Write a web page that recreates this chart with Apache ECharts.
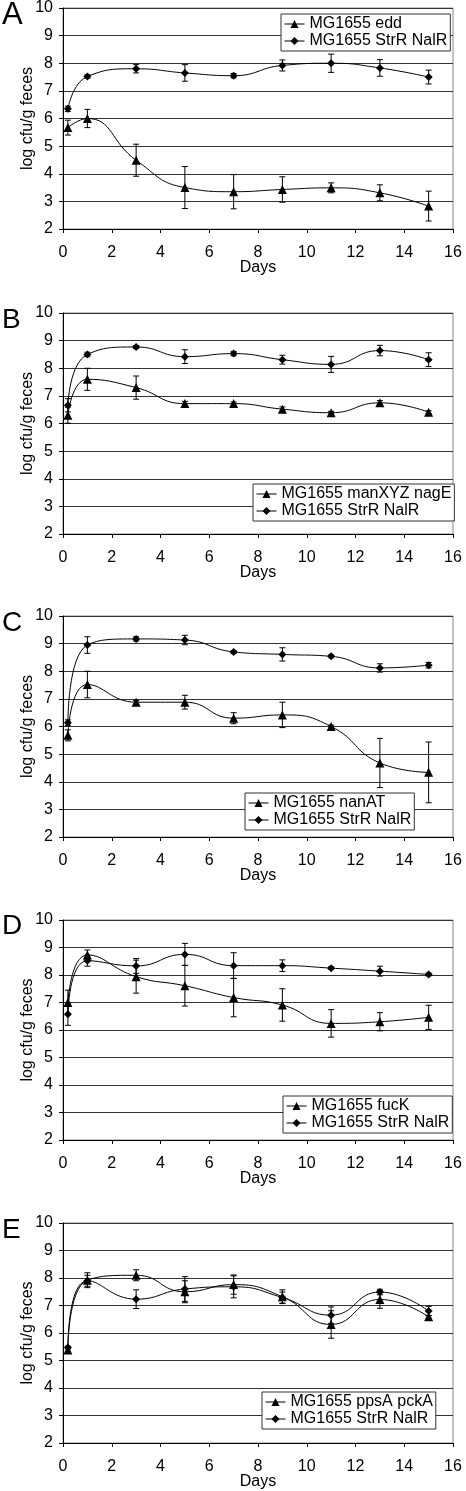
<!DOCTYPE html>
<html>
<head>
<meta charset="utf-8">
<script src="https://cdn.jsdelivr.net/npm/echarts@6/dist/echarts.min.js"></script>
<style>
html,body{margin:0;padding:0;background:#fff;}
#chart{width:466px;height:1491px;}
</style>
</head>
<body>
<div id="chart"></div>
<script>
// ---- data ----
const days = [0.2, 1, 3, 5, 7, 9, 11, 13, 15];
const panelLetters = ['A', 'B', 'C', 'D', 'E'];
const mutantNames = ['MG1655 edd', 'MG1655 manXYZ nagE', 'MG1655 nanAT', 'MG1655 fucK', 'MG1655 ppsA pckA'];
const wtName = 'MG1655 StrR NalR';
const xTicks = [0, 2, 4, 6, 8, 10, 12, 14, 16];
const yTicks = [2, 3, 4, 5, 6, 7, 8, 9, 10];

const mutA    = [5.67, 6.00, 4.49, 3.50, 3.35, 3.43, 3.49, 3.31, 2.83];
const mutAErr = [0.27, 0.33, 0.58, 0.76, 0.62, 0.46, 0.18, 0.29, 0.54];
const wtA     = [6.35, 7.52, 7.80, 7.65, 7.55, 7.92, 8.00, 7.83, 7.50];
const wtAErr  = [0.10, 0.06, 0.15, 0.30, 0.08, 0.20, 0.33, 0.30, 0.25];

const mutB    = [6.30, 7.60, 7.30, 6.72, 6.72, 6.52, 6.39, 6.75, 6.41];
const mutBErr = [0.29, 0.40, 0.42, 0.08, 0.06, 0.08, 0.05, 0.08, 0.05];
const wtB     = [6.66, 8.50, 8.77, 8.42, 8.53, 8.31, 8.14, 8.64, 8.31];
const wtBErr  = [0.24, 0.08, 0.05, 0.25, 0.08, 0.16, 0.29, 0.19, 0.25];

const mutC    = [5.68, 7.52, 6.88, 6.88, 6.30, 6.42, 6.00, 4.68, 4.34];
const mutCErr = [0.20, 0.48, 0.06, 0.25, 0.20, 0.46, 0.05, 0.89, 1.10];
const wtC     = [6.14, 8.95, 9.17, 9.13, 8.70, 8.61, 8.54, 8.12, 8.22];
const wtCErr  = [0.10, 0.30, 0.08, 0.17, 0.05, 0.24, 0.05, 0.15, 0.10];

const mutD    = [7.00, 8.73, 7.94, 7.61, 7.18, 6.91, 6.24, 6.30, 6.46];
const mutDErr = [0.45, 0.18, 0.60, 0.74, 0.70, 0.59, 0.50, 0.33, 0.44];
const wtD     = [6.57, 8.52, 8.33, 8.75, 8.34, 8.34, 8.25, 8.14, 8.02];
const wtDErr  = [0.40, 0.20, 0.27, 0.40, 0.47, 0.21, 0.05, 0.18, 0.05];

const mutE    = [5.38, 7.92, 8.10, 7.50, 7.76, 7.32, 6.31, 7.22, 6.59];
const mutEErr = [0.05, 0.27, 0.20, 0.40, 0.35, 0.25, 0.50, 0.32, 0.05];
const wtE     = [5.47, 7.90, 7.23, 7.60, 7.68, 7.29, 6.65, 7.49, 6.80];
const wtEErr  = [0.05, 0.20, 0.34, 0.45, 0.40, 0.20, 0.30, 0.10, 0.17];

const mutants = [mutA, mutB, mutC, mutD, mutE];
const mutErrs = [mutAErr, mutBErr, mutCErr, mutDErr, mutEErr];
const wts = [wtA, wtB, wtC, wtD, wtE];
const wtErrs = [wtAErr, wtBErr, wtCErr, wtDErr, wtEErr];

// ---- layout (px) ----
const FONT = '"Liberation Sans", Arial, sans-serif';
const gridTops = [8, 313, 616, 920, 1223];
const gridHeights = [221, 221, 221, 220, 220];
const legendPos = [[281, 14], [253, 484], [245, 793], [283, 1096], [262, 1392]];
const letterTops = [0, 306, 609, 912, 1216];
const letterSizes = [31, 28, 28, 28, 28];

const chart = echarts.init(document.getElementById('chart'), null, {renderer: 'canvas'});

function renderErr(params, api) {
  const x = api.value(0), lo = api.value(1), hi = api.value(2);
  const p1 = api.coord([x, lo]);
  const p2 = api.coord([x, hi]);
  const w = 3;
  const st = {stroke: '#000', lineWidth: 1};
  return {
    type: 'group',
    children: [
      {type: 'line', shape: {x1: p1[0], y1: p1[1], x2: p2[0], y2: p2[1]}, style: st},
      {type: 'line', shape: {x1: p1[0] - w, y1: p1[1], x2: p1[0] + w, y2: p1[1]}, style: st},
      {type: 'line', shape: {x1: p2[0] - w, y1: p2[1], x2: p2[0] + w, y2: p2[1]}, style: st}
    ]
  };
}

const grids = [], xAxes = [], yAxes = [], series = [], legends = [], graphics = [];
for (let i = 0; i < 5; i++) {
  grids.push({left: 63, width: 390, top: gridTops[i], height: gridHeights[i],
    show: true, borderColor: '#888', borderWidth: 1, backgroundColor: 'transparent'});
  xAxes.push({
    type: 'value', gridIndex: i, min: 0, max: 16, interval: 2,
    name: 'Days', nameLocation: 'middle', nameGap: 31, nameMoveOverlap: false,
    nameTextStyle: {fontFamily: FONT, fontSize: 16, color: '#000'},
    axisLine: {show: true, lineStyle: {color: '#000', width: 1}},
    axisTick: {show: true, inside: false, length: 4, lineStyle: {color: '#000'}},
    axisLabel: {fontFamily: FONT, fontSize: 16, color: '#000', margin: 16,
      formatter: v => xTicks.includes(v) ? String(v) : ''},
    splitLine: {show: false}
  });
  yAxes.push({
    type: 'value', gridIndex: i, min: 2, max: 10, interval: 1,
    name: 'log cfu/g feces', nameLocation: 'middle', nameGap: 27, nameMoveOverlap: false,
    nameTextStyle: {fontFamily: FONT, fontSize: 16, color: '#000'},
    axisLine: {show: true, lineStyle: {color: '#000', width: 1}},
    axisTick: {show: true, inside: false, length: 4, lineStyle: {color: '#000'}},
    axisLabel: {fontFamily: FONT, fontSize: 16, color: '#000', margin: 10,
      formatter: v => yTicks.includes(v) ? String(v) : ''},
    splitLine: {show: true, lineStyle: {color: '#333', width: 1}}
  });
  const mut = mutants[i], mErr = mutErrs[i], wt = wts[i], wErr = wtErrs[i];
  series.push({
    type: 'custom', name: 'errWt' + i, xAxisIndex: i, yAxisIndex: i,
    renderItem: renderErr, encode: {x: 0, y: [1, 2]}, silent: true, z: 1,
    data: days.map((d, k) => [d, wt[k] - wErr[k], wt[k] + wErr[k]])
  });
  series.push({
    type: 'custom', name: 'errMut' + i, xAxisIndex: i, yAxisIndex: i,
    renderItem: renderErr, encode: {x: 0, y: [1, 2]}, silent: true, z: 1,
    data: days.map((d, k) => [d, mut[k] - mErr[k], mut[k] + mErr[k]])
  });
  series.push({
    type: 'line', name: mutantNames[i], xAxisIndex: i, yAxisIndex: i,
    data: days.map((d, k) => [d, mut[k]]), smooth: 0.5,
    symbol: 'triangle', symbolSize: 9, showSymbol: true,
    itemStyle: {color: '#000', borderWidth: 0}, lineStyle: {color: '#000', width: 1},
    emphasis: {disabled: true}, animation: false, z: 3
  });
  series.push({
    type: 'line', name: wtName, xAxisIndex: i, yAxisIndex: i,
    data: days.map((d, k) => [d, wt[k]]), smooth: 0.5,
    symbol: 'diamond', symbolSize: 8, showSymbol: true,
    itemStyle: {color: '#000', borderWidth: 0}, lineStyle: {color: '#000', width: 1},
    emphasis: {disabled: true}, animation: false, z: 3
  });
  legends.push({
    orient: 'vertical', left: legendPos[i][0], top: legendPos[i][1],
    data: [mutantNames[i], wtName],
    itemWidth: 20, itemHeight: 10, itemGap: 1,
    padding: [2, 3, 2, 3],
    borderColor: '#333', borderWidth: 1, borderRadius: 0, backgroundColor: '#fff',
    selectedMode: false,
    textStyle: {fontFamily: FONT, fontSize: 16, color: '#000', lineHeight: 16, padding: [0, 0, 0, 0]},
    itemStyle: {color: '#000'},
    lineStyle: {color: '#000', width: 1}
  });
  graphics.push({
    type: 'text', left: 2, top: letterTops[i],
    style: {text: panelLetters[i], font: letterSizes[i] + 'px ' + FONT, fill: '#000'}
  });
}

chart.setOption({
  backgroundColor: '#fff',
  animation: false,
  grid: grids, xAxis: xAxes, yAxis: yAxes, series: series,
  legend: legends, graphic: graphics
});
</script>
</body>
</html>
